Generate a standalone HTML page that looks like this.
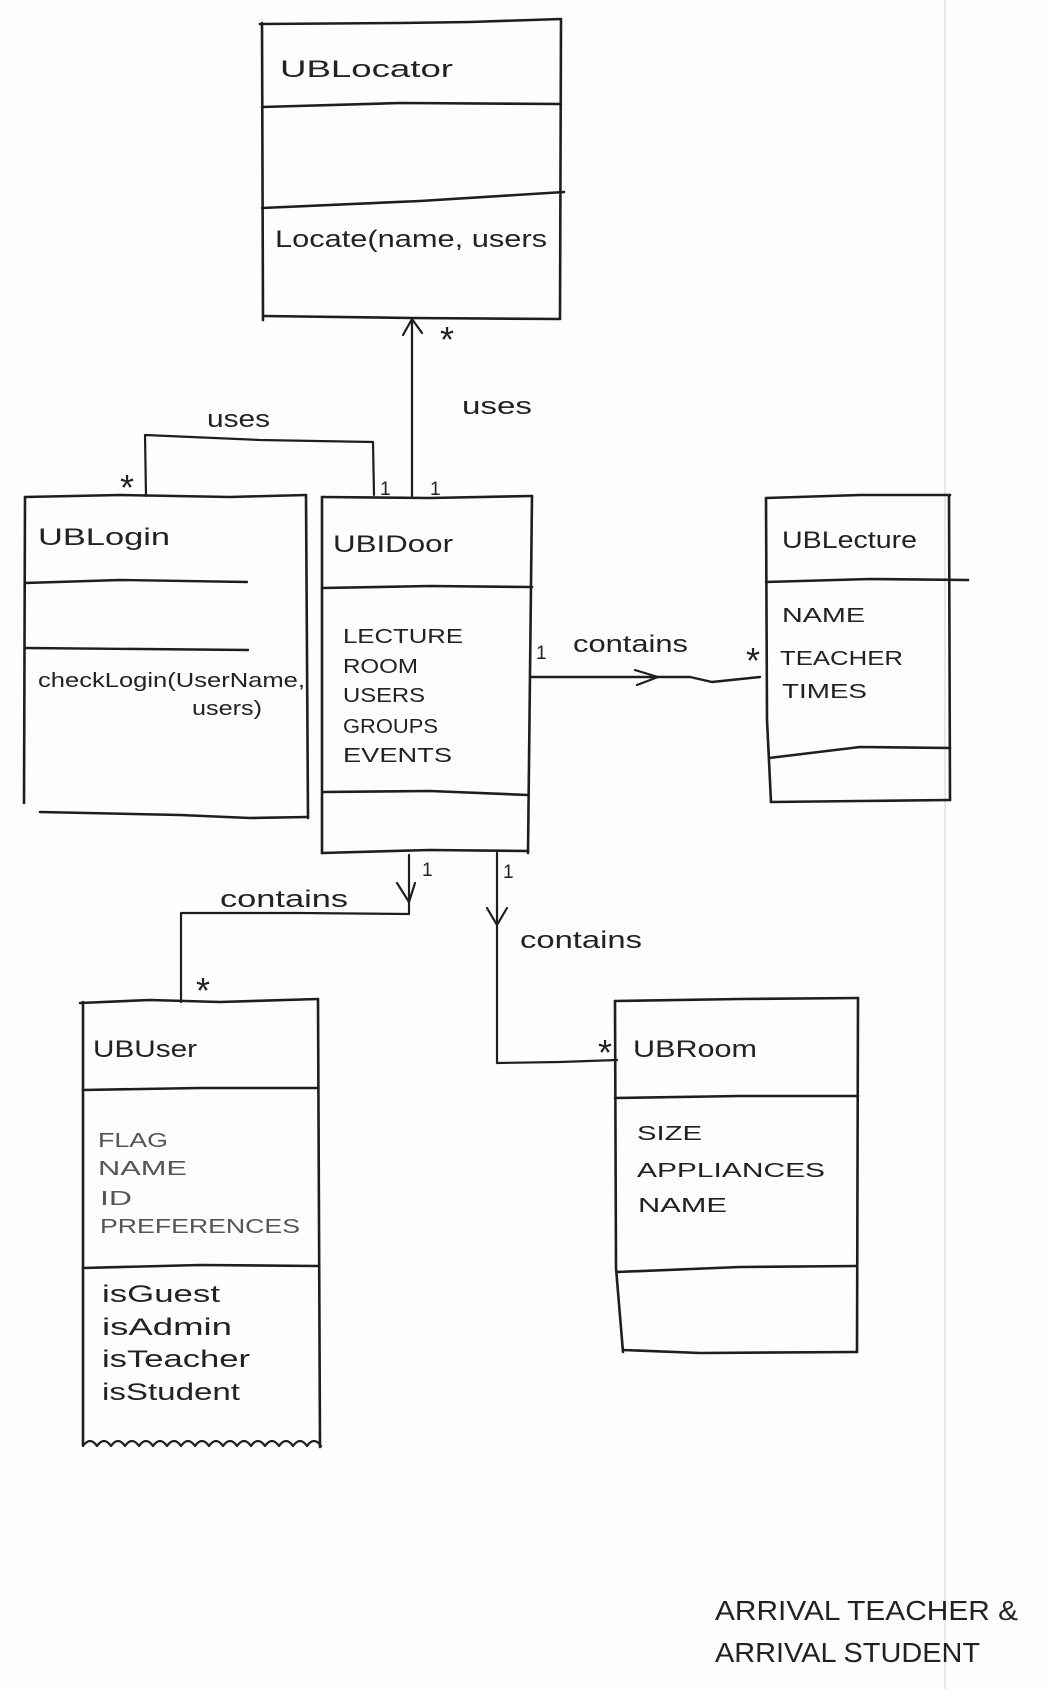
<!DOCTYPE html>
<html>
<head>
<meta charset="utf-8">
<style>
  html,body{margin:0;padding:0;background:#fdfdfd;}
  svg{display:block;}
  text{font-family:"Liberation Sans",sans-serif;fill:#222;}
  .t{font-size:24px;}
  .a{font-size:20px;}
  .p{font-size:20px;fill:#555;}
  .l{font-size:24px;}
  .m{font-size:19px;}
  .s{font-size:36px;}
</style>
</head>
<body>
<svg width="1050" height="1689" viewBox="0 0 1050 1689" xmlns="http://www.w3.org/2000/svg">
  <rect x="0" y="0" width="1050" height="1689" fill="#fdfdfd"/>
  <!-- fold line -->
  <line x1="945" y1="0" x2="945" y2="1689" stroke="#e2e2e2" stroke-width="1.5"/>

  <g fill="none" stroke="#1e1e1e" stroke-width="2.6" stroke-linecap="round" stroke-linejoin="round">
    <!-- UBLocator -->
    <path d="M260,24 L400,23 L470,22 L561,19"/>
    <path d="M262,23 L263,320"/>
    <path d="M561,19 L560,318"/>
    <path d="M263,316 L412,318 L560,319"/>
    <path d="M262,107 L400,103 L561,104"/>
    <path d="M262,208 L420,201 L564,192"/>

    <!-- uses arrow to locator -->
    <path d="M412,496 L412,320" stroke-width="2.2"/>
    <path d="M403,335 L412,319 L422,333" stroke-width="2.2"/>

    <!-- UBLogin uses connector -->
    <path d="M146,496 L145,435 L260,440 L373,442 L374,495" stroke-width="2.2"/>

    <!-- UBLogin box -->
    <path d="M25,497 L120,495 L230,497 L306,495"/>
    <path d="M25,497 L24,803"/>
    <path d="M306,495 L308,818"/>
    <path d="M40,812 L180,815 L250,818 L307,817"/>
    <path d="M25,583 L120,580 L247,582" stroke-width="2.4"/>
    <path d="M25,648 L140,649 L248,650" stroke-width="2.4"/>

    <!-- UBIDoor box -->
    <path d="M322,497 L430,498 L532,496"/>
    <path d="M322,497 L322,853"/>
    <path d="M532,496 L528,853"/>
    <path d="M322,853 L430,850 L528,851"/>
    <path d="M322,588 L430,586 L532,587"/>
    <path d="M324,792 L430,791 L528,795"/>

    <!-- contains -> UBLecture -->
    <path d="M530,677 L690,677 L712,682 L760,677" stroke-width="2.4"/>
    <path d="M635,670 L658,677 L637,685" stroke-width="2.2"/>

    <!-- UBLecture box -->
    <path d="M766,498 L860,495 L950,495"/>
    <path d="M766,498 L767,720 L771,802"/>
    <path d="M949,495 L950,800"/>
    <path d="M771,802 L860,801 L950,800"/>
    <path d="M766,582 L870,579 L968,580"/>
    <path d="M769,758 L860,747 L950,748"/>

    <!-- contains -> UBUser -->
    <path d="M409,855 L409,914 L300,913 L181,913 L181,1002" stroke-width="2.2"/>
    <path d="M397,883 L409,902 L415,883" stroke-width="2.2"/>

    <!-- contains -> UBRoom -->
    <path d="M497,853 L497,1063 L560,1062 L617,1060" stroke-width="2.2"/>
    <path d="M487,908 L497,925 L507,908" stroke-width="2.2"/>

    <!-- UBUser box -->
    <path d="M80,1003 L150,1000 L220,1002 L318,999"/>
    <path d="M83,1002 L83,1445"/>
    <path d="M318,999 L320,1447"/>
    <path d="M83,1090 L200,1088 L318,1088"/>
    <path d="M83,1268 L200,1265 L318,1266"/>
    <path d="M83,1446 q7,-10 14,0 q7,-10 14,0 q7,-10 14,0 q7,-10 14,0 q7,-10 14,0 q7,-10 14,0 q7,-10 14,0 q7,-10 14,0 q7,-10 14,0 q7,-10 14,0 q7,-10 14,0 q7,-10 14,0 q7,-10 14,0 q7,-10 14,0 q7,-10 14,0 q7,-10 14,0 q7,-10 14,0" stroke-width="2.2"/>

    <!-- UBRoom box -->
    <path d="M615,1001 L740,999 L858,998"/>
    <path d="M615,1001 L616,1268 L623,1352"/>
    <path d="M858,998 L857,1352"/>
    <path d="M623,1350 L700,1353 L857,1352"/>
    <path d="M615,1098 L740,1096 L858,1096"/>
    <path d="M617,1272 L740,1267 L857,1266"/>
  </g>

  <!-- UBLocator text -->
  <text class="t" x="280" y="77" textLength="173" lengthAdjust="spacingAndGlyphs">UBLocator</text>
  <text class="t" x="275" y="247" textLength="272" lengthAdjust="spacingAndGlyphs">Locate(name, users</text>

  <!-- multiplicities / labels top -->
  <text class="s" x="440" y="352">*</text>
  <text class="l" x="462" y="414" textLength="70" lengthAdjust="spacingAndGlyphs">uses</text>
  <text class="l" x="207" y="427" textLength="63" lengthAdjust="spacingAndGlyphs">uses</text>
  <text class="s" x="120" y="500">*</text>
  <text class="m" x="380" y="495">1</text>
  <text class="m" x="430" y="495">1</text>

  <!-- UBLogin text -->
  <text class="t" x="38" y="545" textLength="132" lengthAdjust="spacingAndGlyphs">UBLogin</text>
  <text class="a" x="38" y="687" textLength="267" lengthAdjust="spacingAndGlyphs">checkLogin(UserName,</text>
  <text class="a" x="192" y="715" textLength="70" lengthAdjust="spacingAndGlyphs">users)</text>

  <!-- UBIDoor text -->
  <text class="t" x="333" y="552" textLength="120" lengthAdjust="spacingAndGlyphs">UBIDoor</text>
  <text class="a" x="343" y="643" textLength="120" lengthAdjust="spacingAndGlyphs">LECTURE</text>
  <text class="a" x="343" y="673" textLength="75" lengthAdjust="spacingAndGlyphs">ROOM</text>
  <text class="a" x="343" y="702" textLength="82" lengthAdjust="spacingAndGlyphs">USERS</text>
  <text class="a" x="343" y="733" textLength="95" lengthAdjust="spacingAndGlyphs">GROUPS</text>
  <text class="a" x="343" y="762" textLength="109" lengthAdjust="spacingAndGlyphs">EVENTS</text>

  <!-- contains right -->
  <text class="m" x="536" y="659">1</text>
  <text class="l" x="573" y="652" textLength="115" lengthAdjust="spacingAndGlyphs">contains</text>
  <text class="s" x="746" y="673">*</text>

  <!-- UBLecture text -->
  <text class="t" x="782" y="548" textLength="135" lengthAdjust="spacingAndGlyphs">UBLecture</text>
  <text class="a" x="782" y="622" textLength="83" lengthAdjust="spacingAndGlyphs">NAME</text>
  <text class="a" x="780" y="665" textLength="123" lengthAdjust="spacingAndGlyphs">TEACHER</text>
  <text class="a" x="782" y="698" textLength="85" lengthAdjust="spacingAndGlyphs">TIMES</text>

  <!-- lower connectors labels -->
  <text class="m" x="422" y="876">1</text>
  <text class="l" x="220" y="907" textLength="128" lengthAdjust="spacingAndGlyphs">contains</text>
  <text class="s" x="196" y="1003">*</text>
  <text class="m" x="503" y="878">1</text>
  <text class="l" x="520" y="948" textLength="122" lengthAdjust="spacingAndGlyphs">contains</text>
  <text class="s" x="598" y="1065">*</text>

  <!-- UBUser text -->
  <text class="t" x="93" y="1057" textLength="104" lengthAdjust="spacingAndGlyphs">UBUser</text>
  <text class="p" x="98" y="1147" textLength="70" lengthAdjust="spacingAndGlyphs">FLAG</text>
  <text class="p" x="98" y="1175" textLength="89" lengthAdjust="spacingAndGlyphs">NAME</text>
  <text class="p" x="100" y="1205" textLength="32" lengthAdjust="spacingAndGlyphs">ID</text>
  <text class="p" x="100" y="1233" textLength="200" lengthAdjust="spacingAndGlyphs">PREFERENCES</text>
  <text class="t" x="102" y="1302" textLength="118" lengthAdjust="spacingAndGlyphs">isGuest</text>
  <text class="t" x="102" y="1335" textLength="130" lengthAdjust="spacingAndGlyphs">isAdmin</text>
  <text class="t" x="102" y="1367" textLength="148" lengthAdjust="spacingAndGlyphs">isTeacher</text>
  <text class="t" x="102" y="1400" textLength="138" lengthAdjust="spacingAndGlyphs">isStudent</text>

  <!-- UBRoom text -->
  <text class="t" x="633" y="1057" textLength="124" lengthAdjust="spacingAndGlyphs">UBRoom</text>
  <text class="a" x="637" y="1140" textLength="65" lengthAdjust="spacingAndGlyphs">SIZE</text>
  <text class="a" x="637" y="1177" textLength="188" lengthAdjust="spacingAndGlyphs">APPLIANCES</text>
  <text class="a" x="638" y="1212" textLength="89" lengthAdjust="spacingAndGlyphs">NAME</text>

  <!-- note -->
  <text x="715" y="1620" font-size="28" textLength="303" lengthAdjust="spacingAndGlyphs">ARRIVAL TEACHER &amp;</text>
  <text x="715" y="1662" font-size="28" textLength="265" lengthAdjust="spacingAndGlyphs">ARRIVAL STUDENT</text>
</svg>
</body>
</html>
